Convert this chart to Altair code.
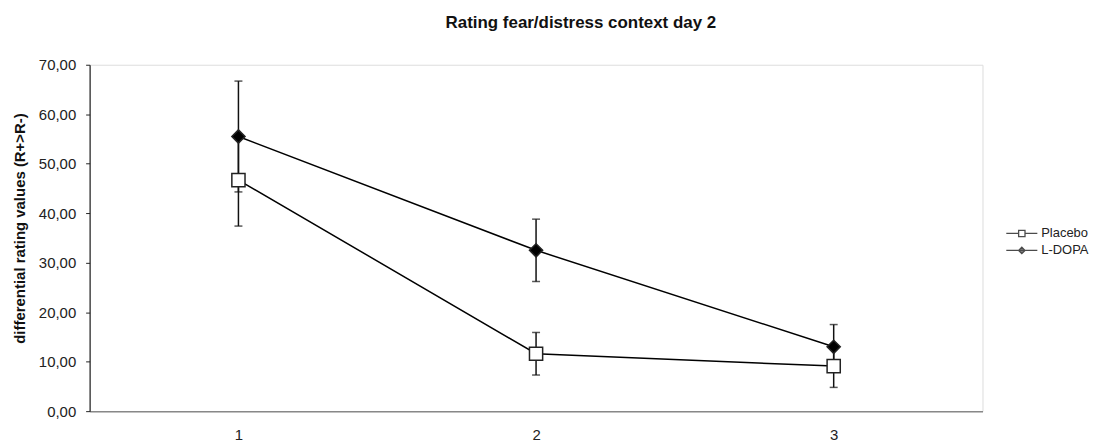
import altair as alt
import pandas as pd

days = ["1", "2", "3"]
series = ["Placebo", "L-DOPA"]
placebo_mean = [46.7, 11.6, 9.1]
placebo_err = [9.3, 4.3, 4.3]
ldopa_mean = [55.5, 32.5, 13.0]
ldopa_err = [11.2, 6.3, 4.5]
y_ticks = [0, 10, 20, 30, 40, 50, 60, 70]

rows = []
for s, means, errs in [("Placebo", placebo_mean, placebo_err), ("L-DOPA", ldopa_mean, ldopa_err)]:
    for d, m, e in zip(days, means, errs):
        rows.append({"day": d, "series": s, "mean": m, "lo": m - e, "hi": m + e})
df = pd.DataFrame(rows)

FONT = "Liberation Sans"

x_enc = alt.X("day:O", scale=alt.Scale(type="point", padding=0.5, domain=days),
              axis=alt.Axis(title=None, labelAngle=0, ticks=False, domainColor="#888888",
                            domainWidth=1.5, labelPadding=16, labelFontSize=15,
                            labelColor="#222222", labelFont=FONT))
y_scale = alt.Scale(domain=[0, 70], nice=False, zero=True)
y_axis = alt.Axis(title="differential rating values (R+>R-)", values=y_ticks,
                  labelExpr="replace(format(datum.value, '.2f'), '.', ',')",
                  grid=False, domainColor="#222222", domainWidth=1.2, tickColor="#222222",
                  tickSize=4, labelPadding=10, labelFontSize=15, labelColor="#222222",
                  labelFont=FONT, titleFont=FONT, titleFontSize=15, titleFontWeight="bold",
                  titleColor="#111111", titlePadding=11, titleY=164)

base = alt.Chart(df)

lines = base.mark_line(color="black", strokeWidth=1.5).encode(
    x=x_enc,
    y=alt.Y("mean:Q", scale=y_scale, axis=y_axis),
    detail="series:N",
)

err = base.mark_rule(color="#111111", strokeWidth=1.5).encode(
    x=x_enc, y=alt.Y("lo:Q", scale=y_scale), y2="hi:Q")
cap_lo = base.mark_tick(color="#111111", thickness=1.5, size=8, orient="horizontal").encode(
    x=x_enc, y=alt.Y("lo:Q", scale=y_scale))
cap_hi = base.mark_tick(color="#111111", thickness=1.5, size=8, orient="horizontal").encode(
    x=x_enc, y=alt.Y("hi:Q", scale=y_scale))

points = base.mark_point(filled=False, stroke="#222222", strokeWidth=1.5, size=175, opacity=1).encode(
    x=x_enc,
    y=alt.Y("mean:Q", scale=y_scale),
    shape=alt.Shape("series:N", scale=alt.Scale(domain=series, range=["square", "diamond"]), legend=None),
    fill=alt.Fill("series:N", scale=alt.Scale(domain=series, range=["white", "black"]), legend=None),
)

# legend-only layer: draws no marks, only provides the legend with line+marker symbols
placebo_path = "M-3.9,0H-0.8M0.8,0H3.9M-0.8,-0.8H0.8V0.8H-0.8Z"
ldopa_path = "M-3.9,0H3.9M0,-0.8L0.8,0L0,0.8L-0.8,0Z"

legend_props = dict(title=None, orient="none", legendX=930, legendY=163,
                    symbolStrokeColor="black", symbolStrokeWidth=1.3, symbolSize=64,
                    labelFont=FONT, labelFontSize=13, labelColor="#222222",
                    labelOffset=13, rowPadding=3)

legend_layer = base.mark_point(filled=False, strokeWidth=1.3, size=64).encode(
    x=x_enc,
    y=alt.Y("mean:Q", scale=y_scale),
    shape=alt.Shape("series:N", scale=alt.Scale(domain=series, range=[placebo_path, ldopa_path]),
                    legend=alt.Legend(**legend_props)),
    fill=alt.Fill("series:N", scale=alt.Scale(domain=series, range=["white", "black"]),
                  legend=alt.Legend(**legend_props)),
    stroke=alt.Stroke("series:N", scale=alt.Scale(domain=series, range=["black", "black"]),
                      legend=alt.Legend(**legend_props)),
).transform_filter("false")

chart = alt.layer(lines, err, cap_lo, cap_hi, points, legend_layer).resolve_scale(
    shape="independent", fill="independent", stroke="independent"
).properties(
    width=897,
    height=348,
    title=alt.Title("Rating fear/distress context day 2", font=FONT, fontSize=17,
                    fontWeight="bold", color="#111111", offset=26, dx=45),
    autosize=alt.AutoSizeParams(type="none"),
    padding={"left": 82, "top": 56, "right": 108, "bottom": 34},
).configure_view(stroke=None).configure(background="white")

chart.save("out.html", embed_options={"renderer": "svg", "actions": False})
